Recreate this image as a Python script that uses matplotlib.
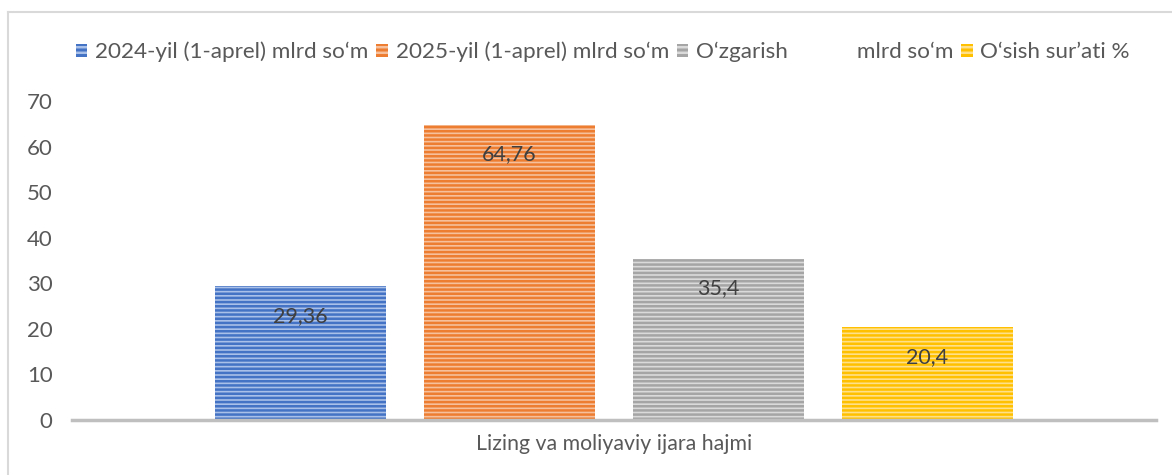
import matplotlib
matplotlib.use('Agg')
import matplotlib.pyplot as plt
from matplotlib.patches import Patch
from matplotlib.lines import Line2D

plt.rcParams['font.family'] = ['Lato', 'DejaVu Sans']
plt.rcParams['hatch.linewidth'] = 1.8

category = 'Lizing va moliyaviy ijara hajmi'
series = ['2024-yil (1-aprel) mlrd so‘m',
          '2025-yil (1-aprel) mlrd so‘m',
          'O‘zgarish            mlrd so‘m',
          'O‘sish sur’ati %']
values = [29.36, 64.76, 35.4, 20.4]
value_labels = ['29,36', '64,76', '35,4', '20,4']
main_colors = ['#4472C4', '#ED7D31', '#A5A5A5', '#FFC000']
light_colors = ['#A9C0E8', '#F6C09C', '#DADADA', '#FFE08A']

fig = plt.figure(figsize=(11.72, 4.75), dpi=100)
ax = fig.add_axes([72 / 1172, 55 / 475, 1084 / 1172, 319 / 475])

step = 0.1928
width = 0.1578
for i, (v, lab) in enumerate(zip(values, value_labels)):
    x = 0.5 + (i - 1.5) * step
    ax.bar(x, v, width=width, color=light_colors[i], edgecolor=main_colors[i],
           hatch='----', linewidth=0)
    ax.text(x, v - 6.5, lab, ha='center', va='center', fontsize=15.5,
            color='#404040')

ax.set_xlim(0, 1)
ax.set_ylim(0, 70)
ax.set_yticks(range(0, 71, 10))
ax.set_xticks([0.5])
ax.set_xticklabels([category])
ax.tick_params(axis='y', length=0, pad=14, labelsize=16, labelcolor='#595959')
ax.tick_params(axis='x', length=0, pad=10, labelsize=15.3, labelcolor='#595959')
for s in ['top', 'right', 'left']:
    ax.spines[s].set_visible(False)
ax.spines['bottom'].set_color('#BFBFBF')
ax.spines['bottom'].set_linewidth(2.5)

handles = [Patch(facecolor=main_colors[i], edgecolor=light_colors[i], hatch='---',
                 linewidth=0) for i in range(4)]
fig.legend(handles, series, loc='center', bbox_to_anchor=(603 / 1172, 1 - 52 / 475),
           ncol=4, frameon=False, fontsize=16.2, labelcolor='#595959',
           handlelength=0.5, handleheight=0.55, handletextpad=0.35, columnspacing=0.35)

# outer frame (top and left edges only)
fig.add_artist(Line2D([8 / 1172, 8 / 1172], [0, 1 - 12 / 475], color='#D9D9D9', lw=1.5))
fig.add_artist(Line2D([8 / 1172, 1], [1 - 12 / 475, 1 - 12 / 475], color='#D9D9D9', lw=1.5))

fig.savefig('out.png', dpi=100)
